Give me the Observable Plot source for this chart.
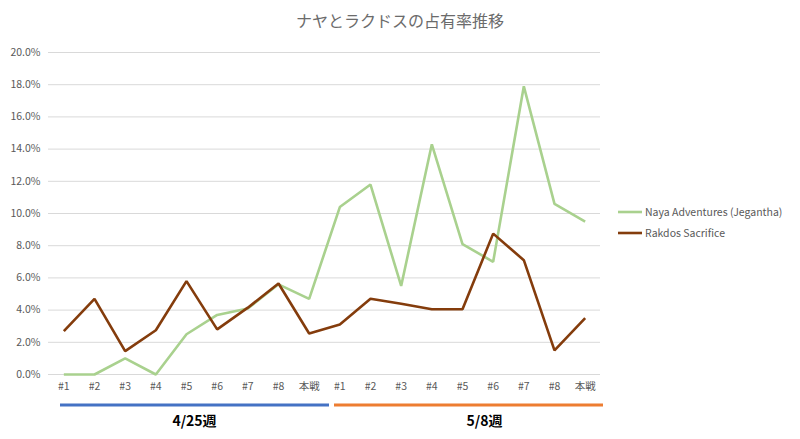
<!DOCTYPE html>
<html><head><meta charset="utf-8">
<script src="https://cdn.jsdelivr.net/npm/d3@7"></script>
<script src="https://cdn.jsdelivr.net/npm/@observablehq/plot@0.6"></script>
<style>body{margin:0;background:#fff;font-family:"Noto Sans CJK JP","Noto Sans",sans-serif}</style>
</head><body><div id="chart"></div>
<script>
const title = "ナヤとラクドスの占有率推移";
const xLabels = ["#1","#2","#3","#4","#5","#6","#7","#8","本戦","#1","#2","#3","#4","#5","#6","#7","#8","本戦"];
const weekGroups = ["4/25週","5/8週"];
const weekOf = [0,0,0,0,0,0,0,0,0,1,1,1,1,1,1,1,1,1];
const seriesNames = ["Naya Adventures (Jegantha)","Rakdos Sacrifice"];
const naya = [0,0,1.0,0,2.5,3.7,4.1,5.6,4.7, 10.4,11.8,5.5,14.3,8.1,7.0,17.9,10.6,9.5];
const rakdos = [2.7,4.7,1.45,2.75,5.8,2.8,4.15,5.65,2.55, 3.1,4.7,4.4,4.05,4.05,8.75,7.1,1.5,3.5];
const yTicks = [0,2,4,6,8,10,12,14,16,18,20];
const seriesColors = ["#a9d18e","#843c0c"];
const groupColors = ["#4472c4","#ed7d31"];

const keys = xLabels.map((l,i)=>"k"+i);
const rows = [];
[naya, rakdos].forEach((arr,s)=>arr.forEach((v,i)=>rows.push({key:keys[i], v, s:seriesNames[s]})));

const chart = Plot.plot({
  width: 800, height: 439,
  marginTop: 52, marginBottom: 65, marginLeft: 48, marginRight: 200,
  style: {fontFamily: '"Noto Sans CJK JP","Noto Sans",sans-serif', fontSize: "10.5px", color: "#595959", background: "#fff"},
  x: {type: "band", domain: keys, padding: 0, round: false, tickFormat: k => xLabels[keys.indexOf(k)], tickSize: 0, tickPadding: 8, label: null},
  y: {domain: [0, 20], ticks: yTicks, tickFormat: d => d.toFixed(1) + "%", tickSize: 0, tickPadding: 8, label: null},
  color: {domain: seriesNames, range: seriesColors},
  marks: [
    Plot.gridY(yTicks, {stroke: "#d9d9d9", strokeOpacity: 1, strokeWidth: 1}),
    Plot.axisX({tickSize: 0, tickPadding: 8, tickFormat: k => xLabels[keys.indexOf(k)], fill: "#595959"}),
    Plot.axisY({ticks: yTicks, tickSize: 0, tickPadding: 8, tickFormat: d => d.toFixed(1) + "%", fill: "#595959"}),
    Plot.line(rows, {x: "key", y: "v", z: "s", stroke: "s", strokeWidth: 2.6, strokeLinejoin: "miter", strokeLinecap: "butt"})
  ]
});
document.getElementById("chart").appendChild(chart);

const svg = d3.select(chart);
const xs = chart.scale("x");
const bw = xs.bandwidth;
// title
svg.append("text").attr("x", 400).attr("y", 27).attr("text-anchor", "middle")
  .attr("font-size", 16).attr("fill", "#6b6b6b").text(title);
// week group lines and labels
const insets = [[12, 5], [10, 3]];
const labelShift = [0, 16];
weekGroups.forEach((g, gi) => {
  const idx = weekOf.map((w,i)=>w===gi?i:-1).filter(i=>i>=0);
  const x1 = xs.apply(keys[idx[0]]) + insets[gi][0];
  const x2 = xs.apply(keys[idx[idx.length-1]]) + bw + insets[gi][1];
  svg.append("line").attr("x1", x1).attr("x2", x2).attr("y1", 405).attr("y2", 405)
    .attr("stroke", groupColors[gi]).attr("stroke-width", 3);
  svg.append("text").attr("x", (x1 + x2) / 2 + labelShift[gi]).attr("y", 426).attr("text-anchor", "middle")
    .attr("font-size", 14).attr("font-weight", "bold").attr("fill", "#000").text(g);
});
// legend
seriesNames.forEach((n, i) => {
  const y = 212 + i * 21;
  svg.append("line").attr("x1", 618).attr("x2", 642).attr("y1", y).attr("y2", y)
    .attr("stroke", seriesColors[i]).attr("stroke-width", 2.6);
  svg.append("text").attr("x", 645).attr("y", y + 4).attr("text-anchor", "start").attr("font-size", 10.5)
    .attr("fill", "#595959").text(n);
});
</script></body></html>
